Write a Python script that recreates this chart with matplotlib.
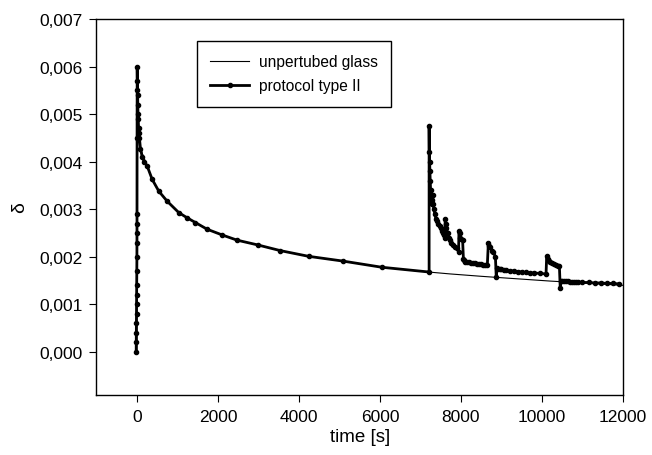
import matplotlib
matplotlib.use("Agg")
import matplotlib.pyplot as plt
from matplotlib.ticker import FuncFormatter

plt.rcParams['font.family'] = ['Liberation Sans', 'DejaVu Sans']

# unperturbed glass (thin line)
t_glass = [0, 0, 5, 10, 20, 30, 50, 86, 251, 374, 538, 744, 1031, 1238, 1443, 1731,
           2101, 2471, 2980, 3539, 4237, 5085, 6047, 7200, 7729, 8500, 9000, 10195,
           11000, 12000]
d_glass = [0.0, 0.0029, 0.0060, 0.0055, 0.0052, 0.0049, 0.0046, 0.00427, 0.00391,
           0.00363, 0.00338, 0.00317, 0.00293, 0.00282, 0.00272, 0.00258, 0.00246,
           0.00235, 0.00225, 0.00213, 0.00201, 0.00191, 0.00178, 0.00168, 0.00164,
           0.00159, 0.00156, 0.00149, 0.00145, 0.00140]

# protocol type II (thick line with dots)
t_prot = [-20, -18, -16, -14, -12, -10, -8, -6, -4, -2, 0, 0, 0, 0, 2, 5, 8, 12, 16, 20,
          25, 30, 40, 50, 60, 86, 130, 180, 251, 374, 538, 744, 1031, 1238, 1443, 1731,
          2101, 2471, 2980, 3539, 4237, 5085, 6047, 7213,
          7213, 7218, 7225, 7232, 7240, 7250, 7260, 7275, 7290, 7300, 7315, 7330, 7355,
          7380, 7410, 7440, 7470, 7500, 7530, 7560, 7590, 7600, 7610, 7625, 7640, 7670,
          7700, 7730, 7760, 7800, 7850, 7900, 7940, 7950, 7965, 7980, 8010, 8040, 8060,
          8080, 8100, 8150, 8200, 8250, 8300, 8350, 8400, 8450, 8500, 8550, 8600, 8650,
          8676, 8700, 8720, 8760, 8800, 8850, 8870, 8890, 8920, 8960, 9000, 9050, 9100,
          9200, 9300, 9400, 9500, 9600, 9700, 9800, 9950, 10100,
          10116, 10140, 10170, 10200, 10250, 10300, 10350, 10400, 10430, 10450, 10470,
          10500, 10550, 10600, 10650, 10700, 10750, 10800, 10850, 10900, 11000, 11150,
          11300, 11450, 11600, 11750, 11900]
d_prot = [0.0, 0.0002, 0.0004, 0.0006, 0.0008, 0.0010, 0.0012, 0.0014, 0.0017, 0.0020,
          0.0023, 0.0025, 0.0027, 0.0029, 0.0045, 0.0060, 0.0057, 0.0055, 0.0054, 0.0052,
          0.0050, 0.0049, 0.0047, 0.0046, 0.0045, 0.00427, 0.00410, 0.00400, 0.00391,
          0.00363, 0.00338, 0.00317, 0.00293, 0.00282, 0.00272, 0.00258, 0.00246,
          0.00235, 0.00225, 0.00213, 0.00201, 0.00191, 0.00178, 0.00168,
          0.00475, 0.0042, 0.0040, 0.0038, 0.0036, 0.0034, 0.0033, 0.0032, 0.0031,
          0.0033, 0.0031, 0.0030, 0.0029, 0.0028, 0.00275, 0.0027, 0.00265, 0.0026,
          0.00255, 0.0025, 0.00245, 0.0024, 0.0028, 0.0027, 0.0026, 0.0025, 0.0024,
          0.00235, 0.0023, 0.00225, 0.0022, 0.00218, 0.0021, 0.00255, 0.0025, 0.0024,
          0.00238, 0.00235, 0.00195, 0.00193, 0.0019, 0.0019, 0.00189, 0.00188, 0.00187,
          0.00186, 0.00185, 0.00185, 0.00184, 0.00183, 0.00182, 0.00182,
          0.0023, 0.00222, 0.0022, 0.00213, 0.0021, 0.0020, 0.00158, 0.00176, 0.00175,
          0.00175, 0.00174, 0.00173, 0.00172, 0.00171, 0.0017, 0.00169, 0.00168, 0.00167,
          0.00166, 0.00166, 0.00165, 0.00164,
          0.00201, 0.00196, 0.00192, 0.0019, 0.00187, 0.00185, 0.00183, 0.00181, 0.0018,
          0.00135, 0.0015, 0.0015, 0.00149, 0.00149, 0.00149, 0.00148, 0.00148, 0.00147,
          0.00147, 0.00147, 0.00146, 0.00146, 0.00145, 0.00145, 0.00144, 0.00144, 0.00143]

x_ticks = [0, 2000, 4000, 6000, 8000, 10000, 12000]
y_ticks = [0.0, 0.001, 0.002, 0.003, 0.004, 0.005, 0.006, 0.007]

fig = plt.figure(figsize=(6.52, 4.56), dpi=100)
ax = fig.add_axes([0.148, 0.1322, 0.8075, 0.8239])

ax.plot(t_glass, d_glass, color='black', lw=0.8, label='unpertubed glass')
ax.plot(t_prot, d_prot, color='black', lw=2.0, marker='o', ms=3.0,
        label='protocol type II')

ax.set_xlim(-1000, 12000)
ax.set_ylim(-0.0009, 0.007)
ax.set_xticks(x_ticks)
ax.set_yticks(y_ticks)
ax.yaxis.set_major_formatter(FuncFormatter(lambda v, p: f"{v:.3f}".replace('.', ',')))
ax.tick_params(direction='out', length=5, width=0.8, labelsize=12.5, colors='black', pad=5)
for s in ax.spines.values():
    s.set_linewidth(1.0)
ax.set_xlabel('time [s]', fontsize=13.5, labelpad=3)
ax.set_ylabel('δ', fontsize=14, labelpad=8)

leg = ax.legend(loc='upper left', bbox_to_anchor=(0.191, 0.942), fontsize=11.2,
                frameon=True, fancybox=False, edgecolor='black', framealpha=1,
                handlelength=2.5, handletextpad=0.6, borderpad=0.85, labelspacing=0.6,
                borderaxespad=0)
leg.get_frame().set_linewidth(1.0)

fig.savefig('out.png', dpi=100)
